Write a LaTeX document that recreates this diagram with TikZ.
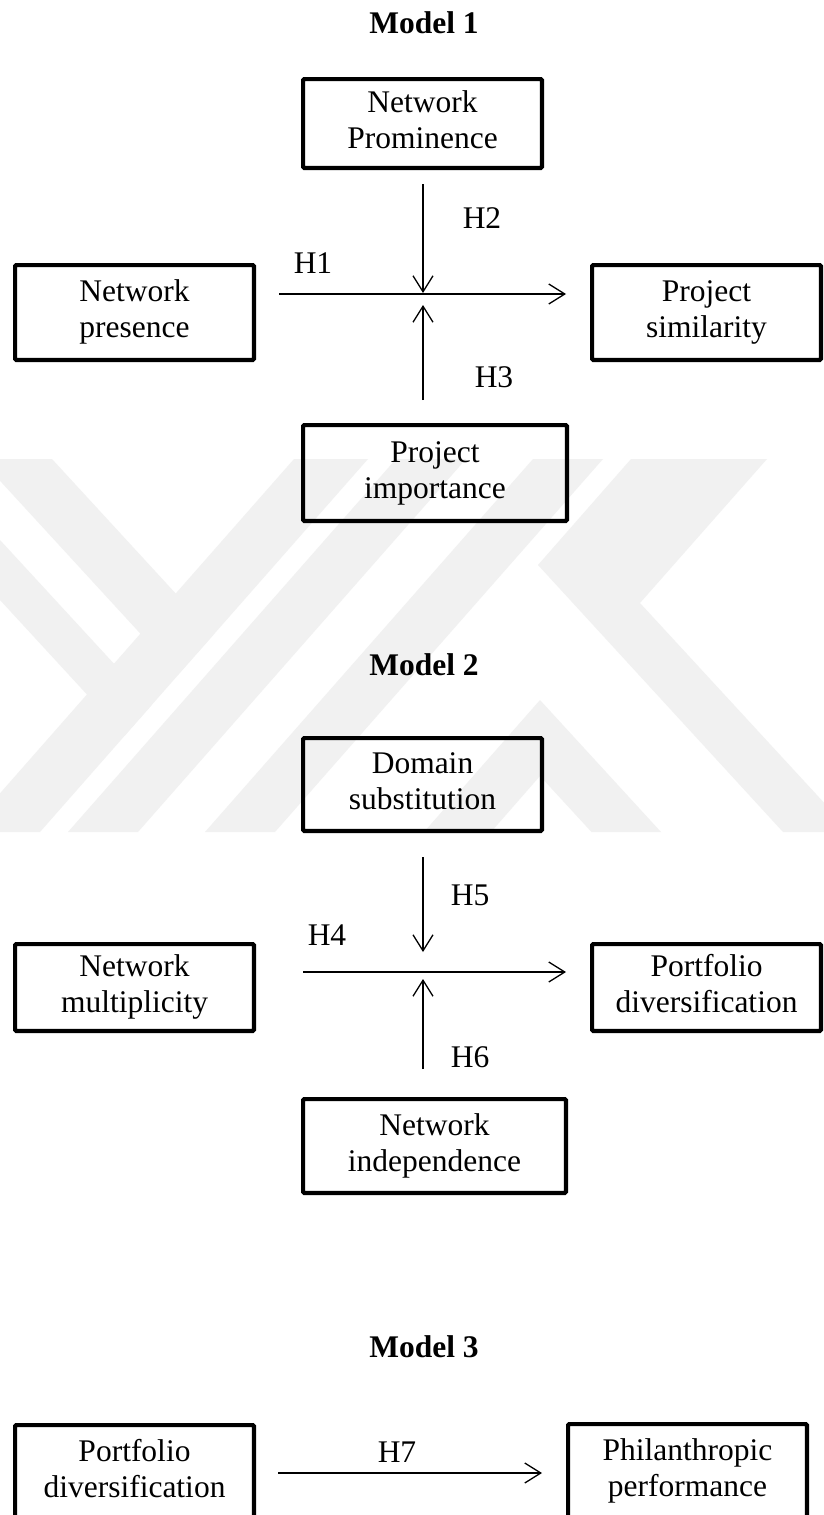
\documentclass[tikz,border=0pt]{standalone}
\usepackage{fontspec}
\setmainfont{Liberation Serif}
\usetikzlibrary{arrows.meta}
\newcommand\boxtxt[2]{\raisebox{#1pt}{\begin{tabular}{@{}c@{}}#2\end{tabular}}}
\definecolor{wmark}{gray}{0.945}
\begin{document}
\begin{tikzpicture}[x=1pt,y=-1pt,
  box/.style={draw, line width=4.2pt, rounded corners=1.2pt, align=center, inner sep=0pt,
              font=\fontsize{31.5}{36}\selectfont},
  lbl/.style={font=\fontsize{31.5}{36}\selectfont, inner sep=0pt},
  ttl/.style={font=\fontsize{31.5}{36}\selectfont\bfseries, inner sep=0pt},
  arr/.style={line width=1.3pt, -{Straight Barb[length=16pt,width=20pt]}},
  wm/.style={fill=wmark, draw=none}
]
\useasboundingbox (0,0) rectangle (824,1515);
\clip (0,0) rectangle (824,1515);
\fill[white] (0,0) rectangle (824,1515);

% ---------------- faint background watermark ----------------
\begin{scope}
\clip (0,459) rectangle (824,832);
\fill[wm] (-20,459) -- (52,459) -- (213.5,634.6) -- (178,674.6) -- cycle;
\fill[wm] (294,459) -- (368,459) -- (40,832) -- (-34,832) -- cycle;
\fill[wm] (0,540) -- (151.8,704.8) -- (124.7,735.5) -- (0,600) -- cycle;
\fill[wm] (396,459) -- (466,459) -- (138,832) -- (68,832) -- cycle;
\fill[wm] (533,459) -- (603,459) -- (275,832) -- (205,832) -- cycle;
\fill[wm] (631,459) -- (767,459) -- (640,603) -- (851,832) -- (783,832) -- (538,565) -- cycle;
\fill[wm] (540,700) -- (661,832) -- (591.5,832) -- (540,776) -- (491,832) -- (424,832) -- cycle;
\end{scope}

% ---------------- Model 1 ----------------
\node[ttl] (t1) at (424,23) {Model 1};
\node[box, minimum width=238.8pt, minimum height=88.8pt] (np) at (422.5,123.5) {\boxtxt{3.5}{Network\\Prominence}};
\node[box, minimum width=238.8pt, minimum height=94.8pt] (npr) at (134.5,312.5) {\boxtxt{7.5}{Network\\presence}};
\node[box, minimum width=228.8pt, minimum height=94.8pt] (ps) at (706.5,312.5) {\boxtxt{7.5}{Project\\similarity}};
\node[box, minimum width=263.8pt, minimum height=95.8pt] (pi) at (435,473) {\boxtxt{7}{Project\\importance}};

\coordinate (h1s) at (279,294);
\coordinate (h1e) at (566,294);
\coordinate (h2s) at (423,184);
\coordinate (h2e) at (423,293);
\coordinate (h3s) at (423,400);
\coordinate (h3e) at (423,305);
\draw[arr] (h1s) -- (h1e);
\draw[arr] (h2s) -- (h2e);
\draw[arr] (h3s) -- (h3e);
\node[lbl] (l1) at (313,263) {H1};
\node[lbl] (l2) at (482,218) {H2};
\node[lbl] (l3) at (494,377) {H3};

% ---------------- Model 2 ----------------
\node[ttl] (t2) at (424,665) {Model 2};
\node[box, minimum width=238.8pt, minimum height=92.8pt] (ds) at (422.5,784.5) {\boxtxt{5.5}{Domain\\substitution}};
\node[box, minimum width=238.8pt, minimum height=86.8pt] (nm) at (134.5,987.5) {\boxtxt{2.5}{Network\\multiplicity}};
\node[box, minimum width=228.8pt, minimum height=86.8pt] (pd) at (706.5,987.5) {\boxtxt{2.5}{Portfolio\\diversification}};
\node[box, minimum width=262.8pt, minimum height=93.8pt] (ni) at (434.5,1146) {\boxtxt{8}{Network\\independence}};

\coordinate (h4s) at (303,972);
\coordinate (h4e) at (566,972);
\coordinate (h5s) at (423,857);
\coordinate (h5e) at (423,952);
\coordinate (h6s) at (423,1069);
\coordinate (h6e) at (423,979);
\draw[arr] (h4s) -- (h4e);
\draw[arr] (h5s) -- (h5e);
\draw[arr] (h6s) -- (h6e);
\node[lbl] (l4) at (327,935) {H4};
\node[lbl] (l5) at (470,895) {H5};
\node[lbl] (l6) at (470,1057) {H6};

% ---------------- Model 3 ----------------
\node[ttl] (t3) at (424,1347) {Model 3};
\node[box, minimum width=238.8pt, minimum height=93.8pt] (pd3) at (134.5,1472) {\boxtxt{0}{Portfolio\\diversification}};
\node[box, minimum width=238.8pt, minimum height=93.8pt] (pp) at (687.5,1471) {\boxtxt{0}{Philanthropic\\performance}};
\coordinate (h7s) at (278,1473);
\coordinate (h7e) at (542,1473);
\draw[arr] (h7s) -- (h7e);
\node[lbl] (l7) at (397,1452) {H7};
\end{tikzpicture}
\end{document}
